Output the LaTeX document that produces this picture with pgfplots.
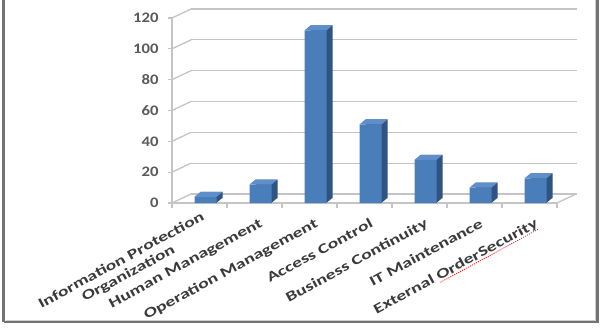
\documentclass[border=0pt]{standalone}
\usepackage{fontspec}
\setmainfont{Carlito}
\usepackage{pgfplots}
\usepackage{pgfplotstable}
\pgfplotsset{compat=1.18}
\definecolor{barfront}{HTML}{4A7EBB}
\definecolor{barside}{HTML}{2F5382}
\definecolor{bartop}{HTML}{5F8FCB}
\definecolor{gridc}{HTML}{C4C4C4}
\definecolor{labc}{HTML}{3A3A3A}
\definecolor{numc}{HTML}{5A5A5A}
\newsavebox\ulbox
\newcommand\redul[1]{\sbox\ulbox{#1}\rlap{\color{red}\leaders\hbox{\rule[-2.5pt]{0.8pt}{0.7pt}\hskip0.8pt}\hskip\wd\ulbox}\usebox\ulbox}
\pgfdeclareplotmark{topface}{%
  \pgfpathmoveto{\pgfqpoint{-11pt}{0pt}}%
  \pgfpathlineto{\pgfqpoint{11pt}{0pt}}%
  \pgfpathlineto{\pgfqpoint{17pt}{5pt}}%
  \pgfpathlineto{\pgfqpoint{-5pt}{5pt}}%
  \pgfpathclose
  \pgfusepathqfill}
\pgfdeclareplotmark{sidebot}{%
  \pgfpathmoveto{\pgfqpoint{10.8pt}{0pt}}%
  \pgfpathlineto{\pgfqpoint{17pt}{5.2pt}}%
  \pgfpathlineto{\pgfqpoint{10.8pt}{5.2pt}}%
  \pgfpathclose
  \pgfusepathqfill}
\pgfplotstableread{
x v
0 4
1 12
2 112
3 51
4 28
5 10
6 16
}\datatable
\begin{document}
\begin{tikzpicture}
\useasboundingbox (0,0) rectangle (601pt,327pt);
\fill[white] (0,0) rectangle (601pt,327pt);
% back wall
\begin{axis}[at={(191pt,133pt)}, anchor=south west, scale only axis,
  width=386pt, height=185pt, xmin=0, xmax=1, ymin=0, ymax=120,
  ytick={0,20,...,120}, xtick=\empty, yticklabel=\empty,
  ymajorgrids, grid style={gridc, line width=1.3pt},
  axis line style={draw=none}, major tick length=0pt]
\end{axis}
% front
\begin{axis}[at={(172pt,124pt)}, anchor=south west, scale only axis,
  width=385pt, height=185pt,
  xmin=-0.5, xmax=6.5, ymin=0, ymax=120,
  axis x line*=bottom, axis y line*=left,
  axis line style={gridc, line width=1.3pt, -},
  ytick={0,20,...,120},
  xtick={0,...,6},
  xticklabels={{\raisebox{-2pt}[0pt][0pt]{\begin{tabular}[t]{@{}c@{}}Information Protection\\[-1pt]Organization\end{tabular}}},Human Management,Operation Management,Access Control,Business Continuity,IT Maintenance,{External \redul{OrderSecurity}}},
  minor xtick={-0.5,0.5,...,6.5},
  major x tick style={draw=none},
  minor x tick style={gridc, line width=1.3pt},
  minor tick length=5pt,
  tick align=outside,
  y tick style={gridc, line width=1.3pt}, major tick length=4pt,
  /pgf/number format/assume math mode=true,
  yticklabel={\scalebox{1.15}[1]{\pgfmathprintnumber{\tick}}},
  yticklabel style={font=\fontsize{14.5}{16}\selectfont\bfseries, text=numc, xshift=-6pt},
  xticklabel style={xshift=5.5pt, yshift=-9pt, rotate=28.5, xscale=1.4, anchor=north east,
    font=\fontsize{14}{16}\selectfont\bfseries, text=labc, inner sep=1pt},
  clip=false]
\pgfplotsinvokeforeach{0,20,40,60,80,100,120}{\draw[gridc, line width=1.3pt] (axis cs:-0.5,#1) -- ++(19pt,9pt);}
\draw[gridc, line width=1.3pt] (axis cs:6.5,0) -- ++(19pt,9pt);
\addplot[ybar, bar width=22pt, fill=barside, draw=none, xshift=12pt, yshift=5pt] table[x=x,y=v]{\datatable};
\addplot[only marks, mark=sidebot, mark options={fill=barside, draw=none}, xshift=6pt] table[x=x,y expr=0]{\datatable};
\addplot[ybar, bar width=22pt, fill=barfront, draw=none, xshift=6pt] table[x=x,y=v]{\datatable};
\addplot[only marks, mark=topface, mark options={fill=bartop, draw=none}, xshift=6pt] table[x=x,y=v]{\datatable};
\end{axis}
\draw[line width=2.2pt, color=black!55] (3.5pt,5pt) -- (597.5pt,5pt) -- (597.5pt,340pt);
\draw[line width=2.2pt, color=black!55] (3.5pt,340pt) -- (3.5pt,5pt);
\draw[line width=1pt, color=black!20] (5.5pt,7pt) -- (595.5pt,7pt) -- (595.5pt,340pt);
\end{tikzpicture}
\end{document}
